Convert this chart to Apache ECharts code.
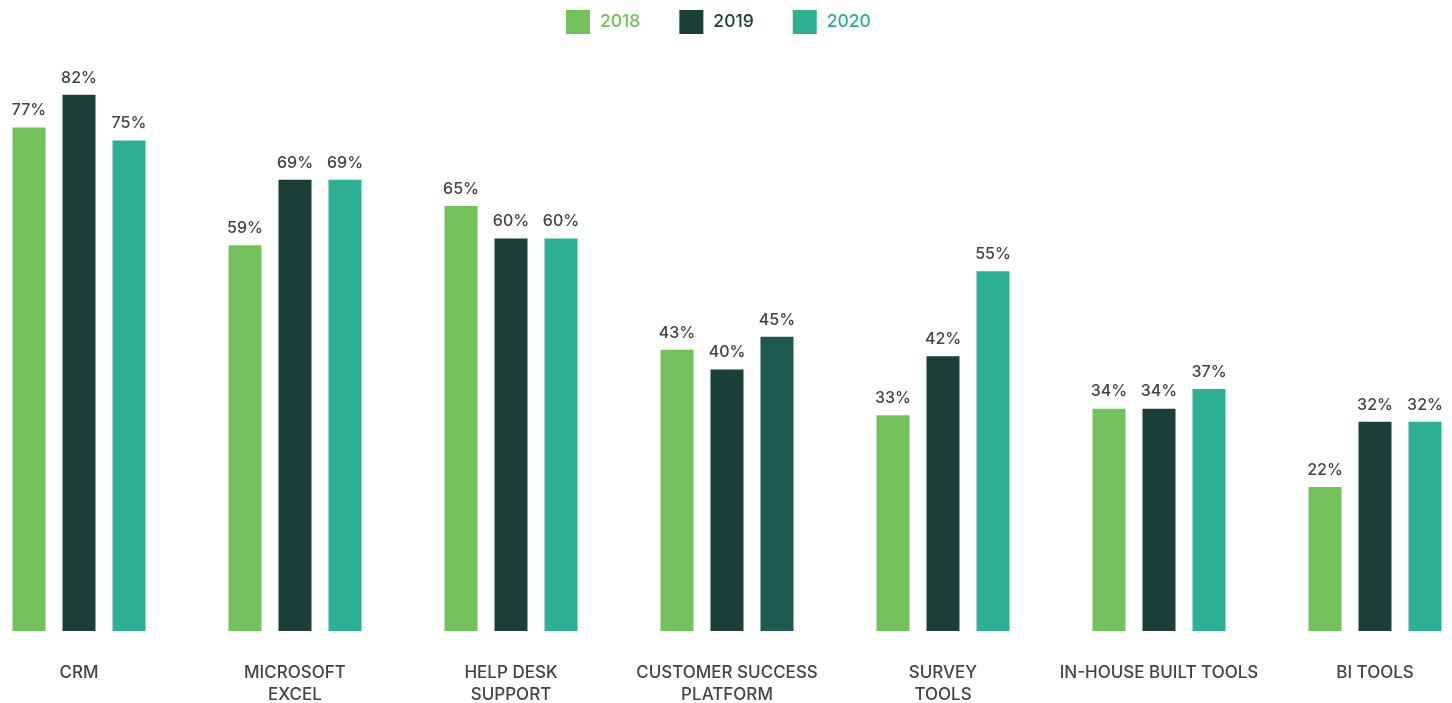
<!DOCTYPE html>
<html>
<head>
<meta charset="utf-8">
<script src="https://cdn.jsdelivr.net/npm/echarts@6/dist/echarts.min.js"></script>
<style>
  html, body { margin: 0; padding: 0; background: #fff; }
  #chart { width: 1452px; height: 703px; }
</style>
</head>
<body>
<div id="chart"></div>
<script>
// Tools used by customer success teams, by year (% of respondents)
const categories = [
  'CRM',
  'MICROSOFT\nEXCEL',
  'HELP DESK\nSUPPORT',
  'CUSTOMER SUCCESS\nPLATFORM',
  'SURVEY\nTOOLS',
  'IN-HOUSE BUILT TOOLS',
  'BI TOOLS'
];
const years = ['2018', '2019', '2020'];
const values2018 = [77, 59, 65, 43, 33, 34, 22];
const values2019 = [82, 69, 60, 40, 42, 34, 32];
const values2020 = [75, 69, 60, 45, 55, 37, 32];

const colors = ['#72c15b', '#1a3f38', '#2daf93'];
const accentIndex2020 = 3;       // customer success platform bar is drawn darker
const accentColor = '#1e5a50';
const FONT = 'Inter, "Noto Sans", sans-serif';

const chart = echarts.init(document.getElementById('chart'), null, { renderer: 'canvas' });

const labelStyle = {
  show: true,
  position: 'top',
  distance: 9,
  formatter: '{c}%',
  color: '#444444',
  fontSize: 16,
  fontWeight: 500,
  fontFamily: FONT
};

function makeSeries(name, values, color, mapper) {
  return {
    name: name,
    type: 'bar',
    barWidth: 33,
    barGap: '51.5%',
    itemStyle: { color: color },
    label: labelStyle,
    data: mapper ? values.map(mapper) : values
  };
}

chart.setOption({
  animation: false,
  backgroundColor: '#ffffff',
  legend: {
    top: 5,
    left: 561,
    itemWidth: 24,
    itemHeight: 24,
    itemGap: 39,
    icon: 'rect',
    textStyle: { fontSize: 17.5, fontWeight: 500, fontFamily: FONT, padding: [0, 0, 0, 5] },
    data: years.map((y, i) => ({ name: y, textStyle: { color: colors[i] } }))
  },
  grid: {
    left: -29,
    right: -31,
    top: -23,
    bottom: 72,
    containLabel: false,
    outerBoundsMode: 'none'
  },
  xAxis: {
    type: 'category',
    data: categories,
    axisLine: { show: false },
    axisTick: { show: false },
    axisLabel: {
      interval: 0,
      margin: 31,
      color: '#444444',
      fontSize: 17,
      fontWeight: 500,
      lineHeight: 22,
      fontFamily: FONT
    }
  },
  yAxis: {
    type: 'value',
    min: 0,
    max: 100,
    show: false,
    splitLine: { show: false }
  },
  series: [
    makeSeries(years[0], values2018, colors[0]),
    makeSeries(years[1], values2019, colors[1]),
    makeSeries(years[2], values2020, colors[2], (v, i) =>
      i === accentIndex2020 ? { value: v, itemStyle: { color: accentColor } } : v)
  ]
});
</script>
</body>
</html>
